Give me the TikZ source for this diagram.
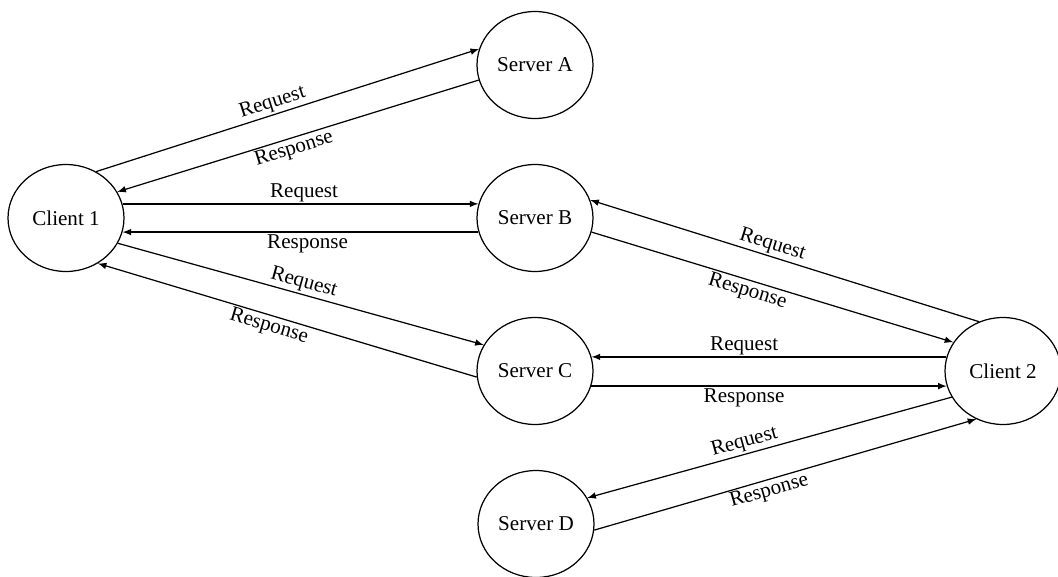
\documentclass[tikz,border=0pt]{standalone}
\usepackage{fontspec}
\setmainfont{Liberation Serif}
\usepackage{tikz}
\usetikzlibrary{shapes.geometric}

\begin{document}
\begin{tikzpicture}[x=0.02cm, y=0.02cm,
            host/.style={shape=ellipse, draw, line width=0.7pt, inner sep=0pt,
                minimum width=2.32cm, minimum height=2.14cm, font=\fontsize{12}{14}\selectfont},
            msg/.style={-latex, line width=0.7pt},
            lbl/.style={sloped, inner sep=1pt, font=\fontsize{12}{14}\selectfont}]
        \useasboundingbox (0,0) rectangle (1058,576);

        \node[host] (client1) at (66,358) {Client 1};
        \node[host] (client2) at (1003,205) {Client 2};
        \node[host] (serverA) at (535,511) {Server A};
        \node[host] (serverB) at (535,358) {Server B};
        \node[host] (serverC) at (535,205) {Server C};
        \node[host] (serverD) at (536,52) {Server D};

        % Client 1
        \draw[msg] (client1.57) -- node[lbl,above,pos=0.47]{Request} (serverA.164);
        \draw[msg] (serverA.195) -- node[lbl,below,pos=0.52]{Response} (client1.27);
        \draw[msg] (client1.14) -- node[lbl,above,pos=0.51]{Request} (serverB.166);
        \draw[msg] (serverB.194) -- node[lbl,below,pos=0.48]{Response} (client1.-14);
        \draw[msg] (client1.-26) -- node[lbl,above,pos=0.5]{Request} (serverC.153);
        \draw[msg] (serverC.186) -- node[lbl,below,pos=0.54]{Response} (client1.-55);

        % Client 2
        \draw[msg] (client2.116) -- node[lbl,above,pos=0.54]{Request} (serverB.18);
        \draw[msg] (serverB.-14) -- node[lbl,below,pos=0.44]{Response} (client2.150);
        \draw[msg] (client2.166) -- node[lbl,above,pos=0.57]{Request} (serverC.14);
        \draw[msg] (serverC.-15) -- node[lbl,below,pos=0.43]{Response} (client2.195);
        \draw[msg] (client2.207) -- node[lbl,above,pos=0.56]{Request} (serverD.27);
        \draw[msg] (serverD.-6) -- node[lbl,below,pos=0.45]{Response} (client2.241);
    \end{tikzpicture}
\end{document}
